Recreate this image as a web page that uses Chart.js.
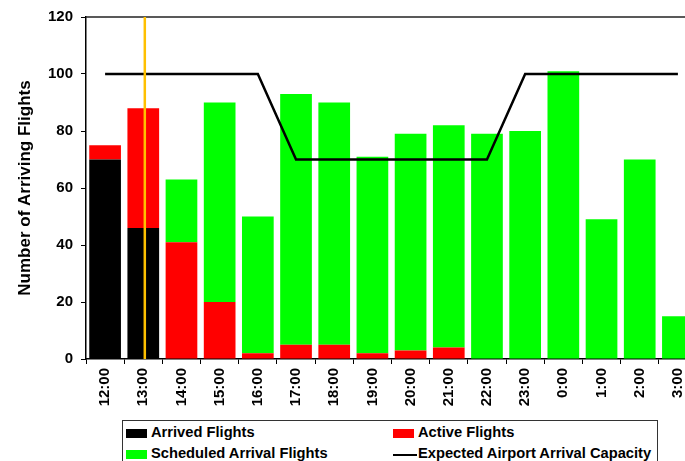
<!DOCTYPE html>
<html>
<head>
<meta charset="utf-8">
<script src="https://cdn.jsdelivr.net/npm/chart.js@4.4.1/dist/chart.umd.min.js"></script>
<style>
body{margin:0;width:685px;height:461px;overflow:hidden;background:#fff;font-family:"Liberation Sans",Arial,sans-serif;position:relative;}
#wrap{position:absolute;left:0;top:0;width:700px;height:418px;}
#legend{position:absolute;left:122px;top:420px;width:536px;height:60px;border:1px solid #333;box-sizing:border-box;}
.item{position:absolute;font-weight:bold;font-size:14.7px;line-height:15px;white-space:nowrap;color:#000;}
.sw{position:absolute;width:21px;height:9px;}
.ln{position:absolute;width:24px;height:2px;background:#000;}
</style>
</head>
<body>
<div id="wrap"><canvas id="flightChart" width="700" height="418"></canvas></div>
<div id="legend"></div>
<script>

/* Data */

const hours=["12:00","13:00","14:00","15:00","16:00","17:00","18:00","19:00",
"20:00","21:00","22:00","23:00","0:00","1:00","2:00","3:00"];

const arrived=[70,46,0,0,0,0,0,0,0,0,0,0,0,0,0,0];

const active=[5,42,41,20,2,5,5,2,3,4,0,0,0,0,0,0];

const scheduled=[0,0,22,70,48,88,85,69,76,78,79,80,101,49,70,15];

const capacity=[100,100,100,100,100,70,70,70,70,70,70,100,100,100,100,100];

const yTicks=[0,20,40,60,80,100,120];

// current time marker, as a position on the hour axis (just after 13:00)
const nowPos=1.04;

/* Plugins */

const framePlugin={
id:"frame",
beforeDatasetsDraw(chart){
const a=chart.chartArea,ctx=chart.ctx;
ctx.save();
ctx.strokeStyle="#222";
ctx.lineWidth=1.5;
ctx.beginPath();
ctx.moveTo(a.left,a.top);
ctx.lineTo(a.right,a.top);
ctx.stroke();
ctx.restore();
}
};

const nowPlugin={
id:"nowLine",
afterDatasetsDraw(chart){
const x=chart.scales.x.getPixelForValue(nowPos);
const a=chart.chartArea,ctx=chart.ctx;
ctx.save();
ctx.strokeStyle="#FFC000";
ctx.lineWidth=2.5;
ctx.beginPath();
ctx.moveTo(x,a.top);
ctx.lineTo(x,a.bottom);
ctx.stroke();
ctx.restore();
}
};

/* Chart */

const tickFont={family:"Liberation Sans",weight:"bold",size:15};

const chart=new Chart(document.getElementById("flightChart"),{
type:"bar",
data:{
labels:hours,
datasets:[
{label:"Expected Airport Arrival Capacity",type:"line",data:capacity,stack:"cap",
borderColor:"#000",borderWidth:2.5,pointRadius:0,tension:0,fill:false,order:0},
{label:"Arrived Flights",data:arrived,backgroundColor:"#000000",stack:"f",order:1},
{label:"Active Flights",data:active,backgroundColor:"#FF0000",stack:"f",order:1},
{label:"Scheduled Arrival Flights",data:scheduled,backgroundColor:"#00FF00",stack:"f",order:1}
]
},
options:{
responsive:false,
animation:false,
layout:{padding:{top:16,right:3,left:0,bottom:0}},
datasets:{bar:{barPercentage:0.83,categoryPercentage:1}},
plugins:{legend:{display:false},tooltip:{enabled:false}},
scales:{
x:{
stacked:true,
grid:{offset:true,drawOnChartArea:false,tickLength:5,color:"#000"},
border:{color:"#000",width:1.5},
ticks:{font:tickFont,color:"#000",minRotation:90,maxRotation:90,padding:4},
afterFit(s){s.height=59;}
},
y:{
stacked:true,
min:0,max:120,
afterBuildTicks(s){s.ticks=yTicks.map(v=>({value:v}));},
grid:{drawOnChartArea:false,tickLength:5,color:"#000"},
border:{color:"#000",width:1.5},
ticks:{font:tickFont,color:"#000",padding:8},
title:{display:true,text:"Number of Arriving Flights",color:"#000",
font:{family:"Liberation Sans",weight:"bold",size:17},padding:{top:15,bottom:0}},
afterFit(s){s.width=86;}
}
}
},
plugins:[framePlugin,nowPlugin]
});

/* Legend */

const legendItems=[
{text:"Arrived Flights",color:"#000000",x:3,y:4},
{text:"Active Flights",color:"#FF0000",x:270,y:4},
{text:"Scheduled Arrival Flights",color:"#00FF00",x:3,y:25},
{text:"Expected Airport Arrival Capacity",line:true,x:270,y:25}
];

const legend=document.getElementById("legend");

legendItems.forEach(it=>{
if(it.line){
legend.innerHTML+=`<div class="ln" style="left:${it.x}px;top:${it.y+8}px"></div>`;
}
else{
legend.innerHTML+=`<div class="sw" style="left:${it.x}px;top:${it.y+4}px;background:${it.color}"></div>`;
}
legend.innerHTML+=`<div class="item" style="left:${it.x+25}px;top:${it.y}px">${it.text}</div>`;
});

</script>
</body>
</html>
